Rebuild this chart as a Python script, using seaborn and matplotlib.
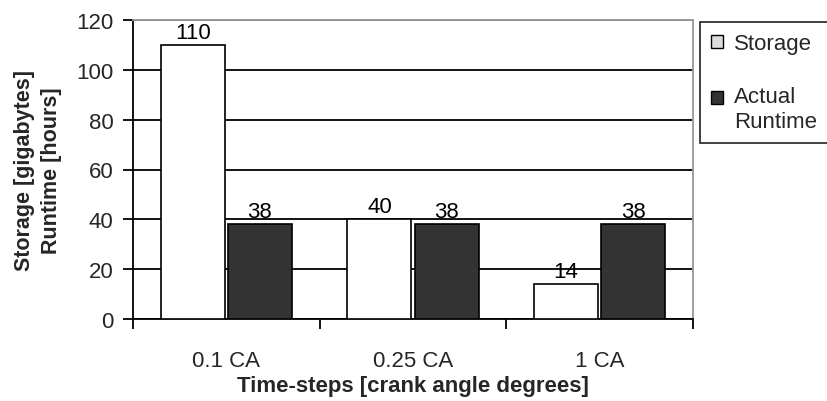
import matplotlib
matplotlib.use("Agg")
import matplotlib.pyplot as plt
import seaborn as sns
import pandas as pd
from matplotlib.patches import Patch

categories = ["0.1 CA", "0.25 CA", "1 CA"]
storage = [110, 40, 14]
runtime = [38, 38, 38]
series_names = ["Storage", "Actual Runtime"]
legend_labels = ["Storage", "Actual\nRuntime"]
y_ticks = [0, 20, 40, 60, 80, 100, 120]

df = pd.DataFrame({
    "cat": categories * 2,
    "series": [series_names[0]] * 3 + [series_names[1]] * 3,
    "value": storage + runtime,
})

sns.set_theme(style="white")
plt.rcParams["font.family"] = ["Liberation Sans", "DejaVu Sans"]

FS = 16

fig = plt.figure(figsize=(8.27, 4.02), dpi=100)
ax = fig.add_axes([133 / 827, 1 - 320 / 402, (693 - 133) / 827, (320 - 21) / 402])

sns.barplot(data=df, x="cat", y="value", hue="series", hue_order=series_names,
            palette=["#ffffff", "#333333"], saturation=1, width=0.72, gap=0.05,
            edgecolor="black", linewidth=1.2, legend=False, ax=ax, zorder=3)

for cont in ax.containers:
    ax.bar_label(cont, padding=1.5, fontsize=FS, color="black")

ax.set_ylim(0, 120)
ax.set_xlim(-0.5, 2.5)
ax.set_yticks(y_ticks)
ax.yaxis.grid(True, color="black", linewidth=1.3, zorder=0)
ax.set_axisbelow(True)

ax.set_xticks([0, 1, 2])
ax.set_xticklabels(categories, fontsize=FS)
ax.set_xticks([-0.5, 0.5, 1.5, 2.5], minor=True)
ax.tick_params(axis="x", which="major", length=0, pad=22)
ax.tick_params(axis="x", which="minor", length=7, width=1.3, color="black", direction="out", bottom=True)
ax.tick_params(axis="y", length=7, width=1.3, color="black", direction="out", left=True, labelsize=FS, pad=7)

for side in ["left", "bottom"]:
    ax.spines[side].set_color("black")
    ax.spines[side].set_linewidth(1.3)
for side in ["top", "right"]:
    ax.spines[side].set_color("#999999")
    ax.spines[side].set_linewidth(1.3)

ax.set_xlabel("Time-steps [crank angle degrees]", fontsize=16, fontweight="bold", labelpad=3)
ax.set_ylabel("Storage [gigabytes]\nRuntime [hours]", fontsize=15.5, fontweight="bold",
              labelpad=10, linespacing=1.4)

handles = [Patch(facecolor="#dcdcdc", edgecolor="black", linewidth=1.0),
           Patch(facecolor="#333333", edgecolor="black", linewidth=1.0)]
leg = fig.legend(handles, legend_labels, loc="upper left", mode="expand",
                 bbox_to_anchor=(700 / 827, 1 - 23 / 402, 160 / 827, 0.0),
                 frameon=True, fontsize=FS,
                 handlelength=0.55, handleheight=0.55, handletextpad=0.5,
                 labelspacing=1.45, borderpad=0.5, fancybox=False, borderaxespad=0)
leg.get_frame().set_edgecolor("black")
leg.get_frame().set_linewidth(1.3)
# align the second handle with the first text line
h2 = leg.legend_handles[1]
h2.set_y(h2.get_y() + 8.5)

fig.savefig("out.png", dpi=100)
